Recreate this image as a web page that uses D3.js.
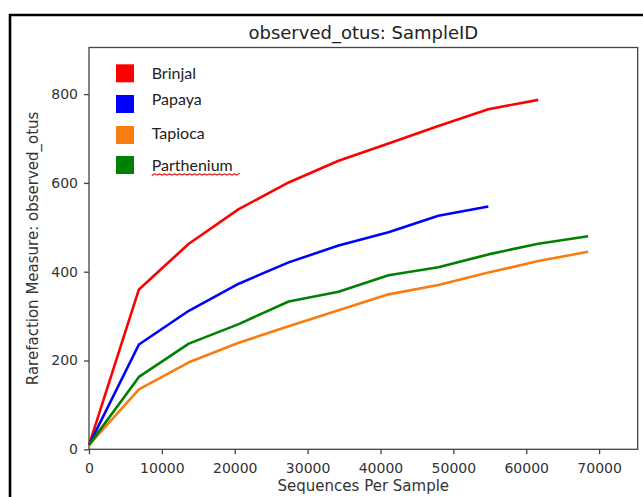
<!DOCTYPE html>
<html>
<head>
<meta charset="utf-8">
<script src="https://cdn.jsdelivr.net/npm/d3@7"></script>
<style>
  body { margin: 0; background: #fff; }
  svg { display: block; }
  .axis text { font-family: "DejaVu Sans", sans-serif; font-size: 14px; fill: #333; }
  .axis line { stroke: #444; stroke-width: 1.3; }
</style>
</head>
<body>
<div id="chart"></div>
<script>
// sequences per sample (rarefaction depths)
const depths = [10, 6850, 13700, 20550, 27400, 34250, 41100, 47950, 54800, 61650, 68500];

// observed otus per sample
const brinjal    = [10, 360, 463, 541, 601, 650, 689, 728, 766, 787];
const papaya     = [10, 236, 312, 373, 421, 459, 489, 526, 547];
const tapioca    = [10, 135, 196, 240, 277, 313, 349, 370, 398, 424, 445];
const parthenium = [10, 163, 238, 282, 333, 355, 392, 410, 439, 463, 480];

const sampleNames = ["Brinjal", "Papaya", "Tapioca", "Parthenium"];
const sampleColors = ["#ff0000", "#0000ff", "#f97c10", "#008000"];

const xTicks = [0, 10000, 20000, 30000, 40000, 50000, 60000, 70000];
const yTicks = [0, 200, 400, 600, 800];

let series = [brinjal, papaya, tapioca, parthenium].map((vals, i) => ({
    name: sampleNames[i],
    color: sampleColors[i],
    points: vals.map((v, j) => ({ x: depths[j], y: v }))
}));

const W = 643, H = 497;
const plot = { left: 89, right: 637.7, top: 47.5, bottom: 449.3 };

let svg = d3.select("#chart").append("svg")
    .attr("width", W)
    .attr("height", H);

// black outer frame (top and left edges only visible)
svg.append("path")
    .attr("d", `M10,${H + 5} L10,15 L${W + 5},15`)
    .attr("fill", "none")
    .attr("stroke", "#000")
    .attr("stroke-width", 2.6);

let x = d3.scaleLinear()
    .domain([0, 75300])
    .range([plot.left, plot.right]);

let y = d3.scaleLinear()
    .domain([0, 905])
    .range([plot.bottom, plot.top]);

// lines
let line = d3.line()
    .x(d => x(d.x))
    .y(d => y(d.y));

svg.append("g").selectAll("path")
    .data(series)
    .enter().append("path")
    .attr("d", d => line(d.points))
    .attr("fill", "none")
    .attr("stroke", d => d.color)
    .attr("stroke-width", 2.6)
    .attr("stroke-linejoin", "round")
    .attr("stroke-linecap", "butt");

// axes
let xAxis = d3.axisBottom(x)
    .tickValues(xTicks)
    .tickFormat(d3.format("d"))
    .tickSize(5)
    .tickPadding(5);

let yAxis = d3.axisLeft(y)
    .tickValues(yTicks)
    .tickFormat(d3.format("d"))
    .tickSize(5)
    .tickPadding(6);

let gx = svg.append("g")
    .attr("class", "axis")
    .attr("transform", `translate(0,${plot.bottom})`)
    .call(xAxis);
gx.select(".domain").remove();
gx.selectAll("text").attr("dy", "0.95em");

let gy = svg.append("g")
    .attr("class", "axis")
    .attr("transform", `translate(${plot.left},0)`)
    .call(yAxis);
gy.select(".domain").remove();

// plot frame
svg.append("rect")
    .attr("x", plot.left)
    .attr("y", plot.top)
    .attr("width", plot.right - plot.left)
    .attr("height", plot.bottom - plot.top)
    .attr("fill", "none")
    .attr("stroke", "#444")
    .attr("stroke-width", 1.3);

// title and labels
svg.append("text")
    .attr("x", (plot.left + plot.right) / 2)
    .attr("y", 39)
    .style("text-anchor", "middle")
    .style("font-family", "DejaVu Sans, sans-serif")
    .style("font-size", "18px")
    .style("fill", "#222")
    .text("observed_otus: SampleID");

svg.append("text")
    .attr("x", (plot.left + plot.right) / 2)
    .attr("y", 491)
    .style("text-anchor", "middle")
    .style("font-family", "DejaVu Sans, sans-serif")
    .style("font-size", "15px")
    .style("fill", "#333")
    .text("Sequences Per Sample");

svg.append("text")
    .attr("transform", "rotate(-90)")
    .attr("x", -(plot.top + plot.bottom) / 2)
    .attr("y", 38)
    .style("text-anchor", "middle")
    .style("font-family", "DejaVu Sans, sans-serif")
    .style("font-size", "15px")
    .style("fill", "#333")
    .text("Rarefaction Measure: observed_otus");

// legend
let boxTops = [64.3, 95, 126, 156];
let textBase = [79.3, 105, 139.3, 170.7];

let legend = svg.append("g").attr("class", "legend-group");

series.forEach((s, i) => {
    legend.append("rect")
        .attr("x", 116)
        .attr("y", boxTops[i])
        .attr("width", 18)
        .attr("height", 18)
        .attr("fill", s.color);

    legend.append("text")
        .attr("x", 151.7)
        .attr("y", textBase[i])
        .style("font-family", "Lato, sans-serif")
        .style("font-size", "16px")
        .style("fill", "#222")
        .text(s.name);
});

// red spell-check squiggle under the last legend entry
let sq = [];
for (let px = 152, k = 0; px <= 240; px += 2.5, k++) {
    sq.push([px, k % 2 ? 172.8 : 176]);
}
legend.append("path")
    .attr("d", d3.line().curve(d3.curveBasis)(sq))
    .attr("fill", "none")
    .attr("stroke", "#e01818")
    .attr("stroke-width", 1.2);
</script>
</body>
</html>
